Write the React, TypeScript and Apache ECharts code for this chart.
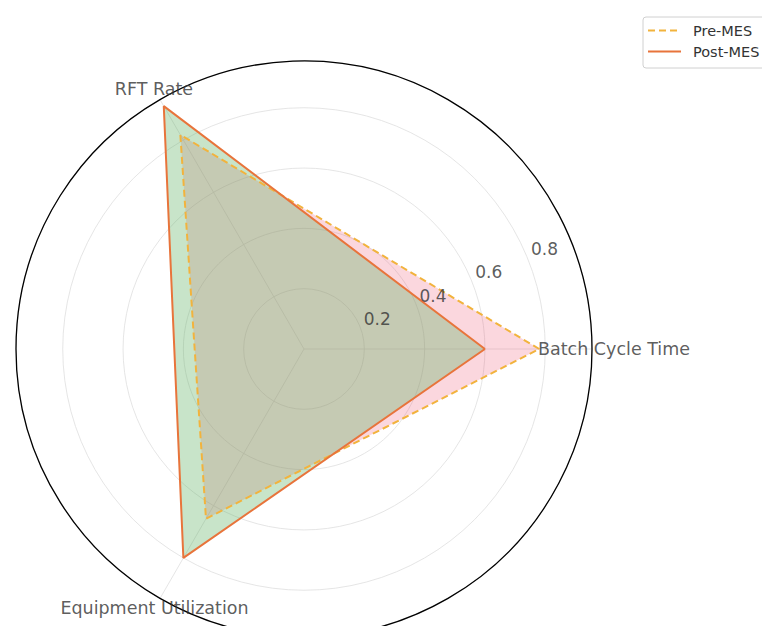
import React, { useEffect, useRef } from "react";
import * as echarts from "echarts";

// ---- data ----
const categories = ["Batch Cycle Time", "RFT Rate", "Equipment Utilization"];
const seriesNames = ["Pre-MES", "Post-MES"];
const preMES = [0.78, 0.82, 0.65];
const postMES = [0.6, 0.93, 0.8];
const radialTicks = [0.2, 0.4, 0.6, 0.8];
const radialTickLabels = ["0.2", "0.4", "0.6", "0.8"];
const radiusMax = 0.955;

// ---- style ----
const FONT = "DejaVu Sans";
const TEXT = "#333333";
const PRE_LINE = "#f2b33d";
const POST_LINE = "#e8743b";
const PRE_FILL = "rgba(239, 87, 115, 0.24)";
const POST_FILL = "rgba(98, 178, 100, 0.35)";
const GRID = "#dedede";
const catLabelPad = [22, 12, 11];
const RLABEL_ANGLE = 22.5;
const RLABEL_PAD = 19;

export default function App() {
  const ref = useRef<HTMLDivElement>(null);

  useEffect(() => {
    if (!ref.current) return;
    const chart = echarts.init(ref.current, undefined, { renderer: "svg" });
    const step = 360 / categories.length;
    const loop = (vals: number[]) => [
      ...vals.map((v, i) => [v, i * step]),
      [vals[0], 360],
    ];
    const rad = (d: number) => (d * Math.PI) / 180;

    const catLabelData = categories.map((c, i) => {
      const a = i * step;
      const pad = catLabelPad[i];
      return {
        name: c,
        value: [radiusMax, a],
        label: {
          offset: [pad * Math.cos(rad(a)), -pad * Math.sin(rad(a))],
        },
      };
    });

    const rLabelData = radialTicks.map((v, i) => ({
      name: radialTickLabels[i],
      value: [v, RLABEL_ANGLE],
    }));

    chart.setOption({
      animation: false,
      backgroundColor: "#ffffff",
      legend: {
        data: seriesNames,
        orient: "vertical",
        left: 643,
        top: 17,
        padding: [6, 30, 9, 4],
        itemWidth: 33,
        itemHeight: 14,
        itemGap: 6,
        borderColor: "#d0d0d0",
        borderWidth: 1,
        borderRadius: 3,
        backgroundColor: "#ffffff",
        itemStyle: { opacity: 0 },
        textStyle: {
          fontFamily: FONT,
          fontSize: 14.5,
          color: TEXT,
          padding: [0, 0, 0, 7],
        },
      },
      polar: { center: [304, 349], radius: 288 },
      angleAxis: {
        type: "value",
        min: 0,
        max: 360,
        interval: 120,
        startAngle: 0,
        clockwise: false,
        axisLine: { show: true, lineStyle: { color: "#000000", width: 1.3 } },
        axisTick: { show: false },
        axisLabel: { show: false },
        splitLine: { show: true, lineStyle: { color: GRID, width: 0.8 } },
      },
      radiusAxis: {
        type: "value",
        min: 0,
        max: radiusMax,
        interval: 0.2,
        axisLine: { show: false },
        axisTick: { show: false },
        axisLabel: { show: false },
        splitLine: { show: true, lineStyle: { color: GRID, width: 0.8 } },
      },
      series: [
        {
          name: seriesNames[0],
          type: "line",
          coordinateSystem: "polar",
          data: loop(preMES),
          symbol: "none",
          lineStyle: { color: PRE_LINE, width: 2, type: [7, 4] },
          itemStyle: { color: PRE_LINE },
          areaStyle: { color: PRE_FILL, opacity: 1 },
          z: 3,
        },
        {
          name: seriesNames[1],
          type: "line",
          coordinateSystem: "polar",
          data: loop(postMES),
          symbol: "none",
          lineStyle: { color: POST_LINE, width: 2, type: "solid" },
          itemStyle: { color: POST_LINE },
          areaStyle: { color: POST_FILL, opacity: 1 },
          z: 3,
        },
        {
          type: "scatter",
          coordinateSystem: "polar",
          data: catLabelData,
          symbolSize: 0,
          clip: false,
          silent: true,
          z: 5,
          label: {
            show: true,
            position: "inside",
            formatter: "{b}",
            fontFamily: FONT,
            fontSize: 17.5,
            color: TEXT,
          },
        },
        {
          type: "scatter",
          coordinateSystem: "polar",
          data: rLabelData,
          symbolSize: 0,
          clip: false,
          silent: true,
          z: 5,
          label: {
            show: true,
            position: "inside",
            formatter: "{b}",
            offset: [
              RLABEL_PAD * Math.cos(rad(RLABEL_ANGLE)),
              -RLABEL_PAD * Math.sin(rad(RLABEL_ANGLE)),
            ],
            fontFamily: FONT,
            fontSize: 17,
            color: TEXT,
          },
        },
      ],
    });
    return () => chart.dispose();
  }, []);

  return (
    <div
      ref={ref}
      style={{ position: "absolute", left: 0, top: 0, width: 762, height: 626 }}
    />
  );
}
